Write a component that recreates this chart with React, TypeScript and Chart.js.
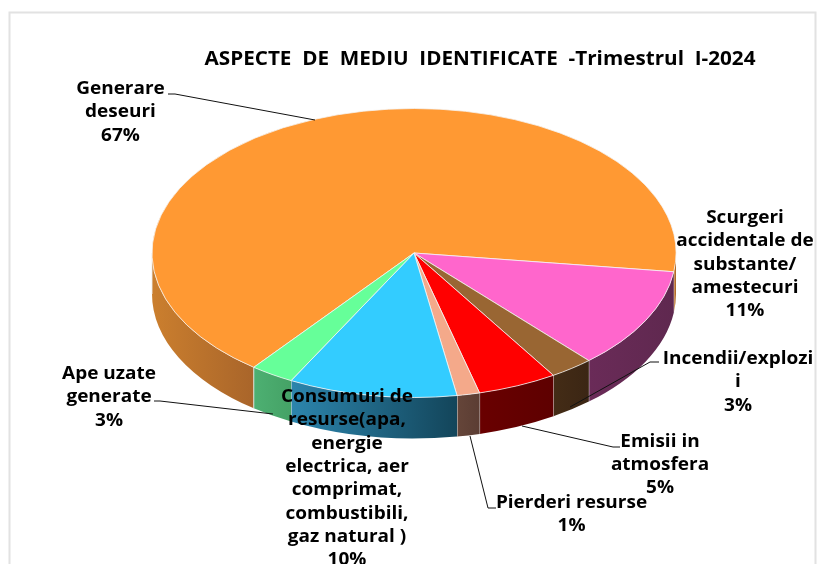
import React, { useEffect, useRef } from "react";
import { Chart, registerables } from "chart.js";

Chart.register(...registerables);

const titleText = "ASPECTE  DE  MEDIU  IDENTIFICATE  -Trimestrul  I-2024";
const categories = [
  "Generare deseuri",
  "Scurgeri accidentale de substante/ amestecuri",
  "Incendii/explozii",
  "Emisii in atmosfera",
  "Pierderi resurse",
  "Consumuri de resurse(apa, energie electrica, aer comprimat, combustibili, gaz natural )",
  "Ape uzate generate",
];
const values = [66.6, 11.3, 2.7, 4.9, 1.4, 10.4, 2.7];
const labelLines = [
  ["Generare", "deseuri"],
  ["Scurgeri", "accidentale de", "substante/", "amestecuri"],
  ["Incendii/explozi", "i"],
  ["Emisii in", "atmosfera"],
  ["Pierderi resurse"],
  ["Consumuri de", "resurse(apa,", "energie", "electrica, aer", "comprimat,", "combustibili,", "gaz natural )"],
  ["Ape uzate", "generate"],
];

const topColors = ["#FF9933", "#FF66CC", "#996633", "#FF0000", "#F4A98A", "#33CCFF", "#66FF99"];
const sideFrom = ["#CB7F2E", "#6A2B58", "#442C16", "#690000", "#654539", "#2C85AD", "#4DB072"];
const sideTo = ["#A9652A", "#5F284F", "#3B2614", "#5E0000", "#5B3D33", "#13455A", "#45A266"];

const CX_PAD = 10;
const CY = 253;
const RX = 262;
const RY = 144.5;
const DEPTH = 41;
const LABEL_FONT = 'bold 18px "Open Sans", sans-serif';
const TITLE_FONT = 'bold 19.5px "Open Sans", sans-serif';
const LABEL_STRETCH = 1.055;
const TITLE_STRETCH = 1.06;

const labelCenters = [
  [120.5, 89], [745, 218], [738, 359], [660, 441.5], [571.5, 503], [347, 397], [109, 374],
];
const LINE_STEP = 23.3;
const leaders = [
  [[168, 94], [175, 94], [315, 120]],
  null,
  [[659, 362], [650, 362], [570, 407]],
  [[620, 447], [613, 447], [522, 426]],
  [[496, 508], [488, 508], [470, 436]],
  null,
  [[154, 401], [160, 401], [273, 414]],
];

function stretchedText(ctx: any, text: string, x: number, y: number, sx: number) {
  ctx.save();
  ctx.translate(x, y);
  ctx.scale(sx, 1);
  ctx.fillText(text, 0, 0);
  ctx.restore();
}

const pie3d = {
  id: "pie3d",
  beforeDraw(chart: any) {
    const { ctx } = chart;
    ctx.save();
    ctx.strokeStyle = "#E2E2E2";
    ctx.lineWidth = 2;
    ctx.beginPath();
    ctx.moveTo(9.5, 600);
    ctx.lineTo(9.5, 12.5);
    ctx.lineTo(815.5, 12.5);
    ctx.lineTo(815.5, 600);
    ctx.stroke();
    ctx.restore();
  },
  beforeDatasetsDraw(chart: any) {
    const { ctx } = chart;
    const arcs = chart.getDatasetMeta(0).data;
    const cx = arcs[0].x;
    arcs.forEach((arc: any, i: number) => {
      const a = arc.startAngle;
      const b = arc.endAngle;
      for (let k = -1; k <= 2; k++) {
        const lo = Math.max(a, k * 2 * Math.PI);
        const hi = Math.min(b, k * 2 * Math.PI + Math.PI);
        if (hi <= lo) continue;
        const x0 = cx + RX * Math.cos(lo);
        const x1 = cx + RX * Math.cos(hi);
        const g = ctx.createLinearGradient(Math.min(x0, x1), 0, Math.max(x0, x1), 0);
        g.addColorStop(0, sideFrom[i]);
        g.addColorStop(1, sideTo[i]);
        ctx.beginPath();
        ctx.ellipse(cx, CY, RX, RY, 0, lo, hi);
        ctx.ellipse(cx, CY + DEPTH, RX, RY, 0, hi, lo, true);
        ctx.closePath();
        ctx.fillStyle = g;
        ctx.fill();
        ctx.strokeStyle = "rgba(236,236,236,0.85)";
        ctx.lineWidth = 1;
        ctx.beginPath();
        ctx.moveTo(x1, CY + RY * Math.sin(hi));
        ctx.lineTo(x1, CY + RY * Math.sin(hi) + DEPTH);
        ctx.stroke();
      }
    });
    ctx.save();
    ctx.translate(0, CY);
    ctx.scale(1, RY / RX);
    ctx.translate(0, -arcs[0].y);
  },
  afterDatasetsDraw(chart: any) {
    chart.ctx.restore();
  },
  afterDraw(chart: any) {
    const { ctx } = chart;
    ctx.save();
    ctx.strokeStyle = "#111111";
    ctx.lineWidth = 1;
    leaders.forEach((pts) => {
      if (!pts) return;
      ctx.beginPath();
      pts.forEach((p, j) => (j ? ctx.lineTo(p[0], p[1]) : ctx.moveTo(p[0], p[1])));
      ctx.stroke();
    });
    ctx.fillStyle = "#000000";
    ctx.textAlign = "center";
    ctx.textBaseline = "middle";
    ctx.font = LABEL_FONT;
    values.forEach((v, i) => {
      const lines = [...labelLines[i], `${Math.round(v)}%`];
      lines.forEach((t, j) => {
        stretchedText(ctx, t, labelCenters[i][0], labelCenters[i][1] + j * LINE_STEP, LABEL_STRETCH);
      });
    });
    ctx.font = TITLE_FONT;
    stretchedText(ctx, titleText, 480, 59, TITLE_STRETCH);
    ctx.restore();
  },
};

export default function App() {
  const ref = useRef<HTMLCanvasElement>(null);
  useEffect(() => {
    const chart = new Chart(ref.current!, {
      type: "pie",
      data: {
        labels: categories,
        datasets: [
          {
            data: values,
            backgroundColor: topColors,
            borderColor: "#F4F4F4",
            borderWidth: 1,
            radius: RX,
            clip: false,
          } as any,
        ],
      },
      options: {
        responsive: false,
        animation: false,
        rotation: 217.7,
        layout: { padding: { left: CX_PAD } },
        plugins: {
          legend: { display: false },
          tooltip: { enabled: false },
          title: { display: false },
        },
      },
      plugins: [pie3d],
    });
    return () => chart.destroy();
  }, []);
  return (
    <div style={{ position: "absolute", left: 0, top: 0, width: 818, height: 564, overflow: "hidden", background: "#fff" }}>
      <canvas ref={ref} width={818} height={564} style={{ display: "block" }} />
    </div>
  );
}
